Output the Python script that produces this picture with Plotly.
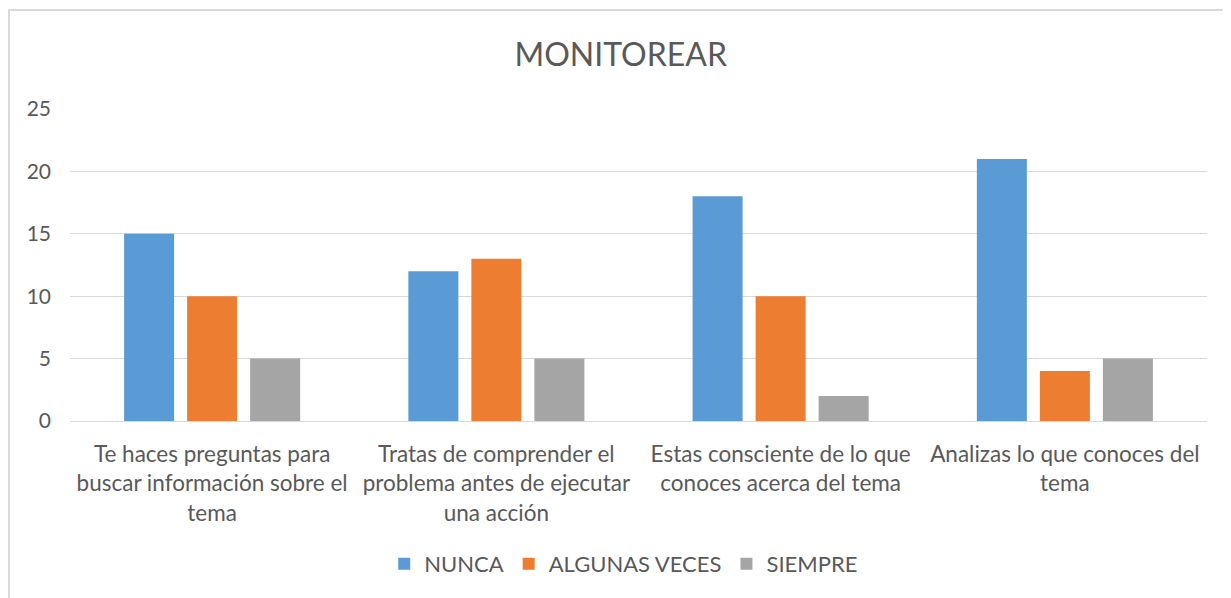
import plotly.graph_objects as go

categories = [
    "Te haces preguntas para<br>buscar información sobre el<br>tema",
    "Tratas de comprender el<br>problema antes de ejecutar<br>una acción",
    "Estas consciente de lo que<br>conoces acerca del tema",
    "Analizas lo que conoces del<br>tema",
]
nunca = [15, 12, 18, 21]
algunas_veces = [10, 13, 10, 4]
siempre = [5, 5, 2, 5]

series = [
    ("NUNCA", nunca, "#5B9BD5"),
    ("ALGUNAS VECES", algunas_veces, "#ED7D31"),
    ("SIEMPRE", siempre, "#A5A5A5"),
]

FONT = "Lato"
TXT = "#595959"

fig = go.Figure()
for name, vals, col in series:
    fig.add_trace(go.Bar(name=name, x=categories, y=vals, marker_color=col,
                         marker_line_width=0))

fig.update_layout(
    width=1223, height=590,
    paper_bgcolor="white", plot_bgcolor="white",
    margin=dict(l=62, r=24, t=101, b=177),
    barmode="group", bargap=0.335, bargroupgap=0.206,
    font=dict(family=FONT, color=TXT, size=21),
    title=dict(text="MONITOREAR", x=0.501, xanchor="center", y=0.920, yanchor="middle",
               xref="container", yref="container",
               font=dict(family=FONT, size=32, color=TXT)),
    legend=dict(orientation="h", x=0.487, xanchor="center", y=-0.458, yanchor="middle",
                font=dict(family=FONT, size=22, color=TXT), itemwidth=30,
                traceorder="normal"),
    showlegend=True,
)
fig.update_xaxes(showgrid=False, showline=True, linecolor="#D9D9D9", linewidth=1,
                 ticks="", tickfont=dict(family=FONT, size=22.5, color=TXT),
                 tickangle=0, automargin=False, ticklabelstandoff=13)
fig.update_yaxes(range=[0, 25], dtick=5, showgrid=True, gridcolor="#D9D9D9", gridwidth=1,
                 zeroline=False, showline=False, ticks="",
                 tickfont=dict(family=FONT, size=21, color=TXT),
                 ticklabelstandoff=18, automargin=False)

fig.add_shape(type="rect", xref="paper", yref="paper",
              x0=(1 - 62) / 1137, x1=1.2, y0=-1.0, y1=(413 - 2) / 312,
              line=dict(color="#D9D9D9", width=2), fillcolor="rgba(0,0,0,0)", layer="below")

fig.write_html("out.html")
